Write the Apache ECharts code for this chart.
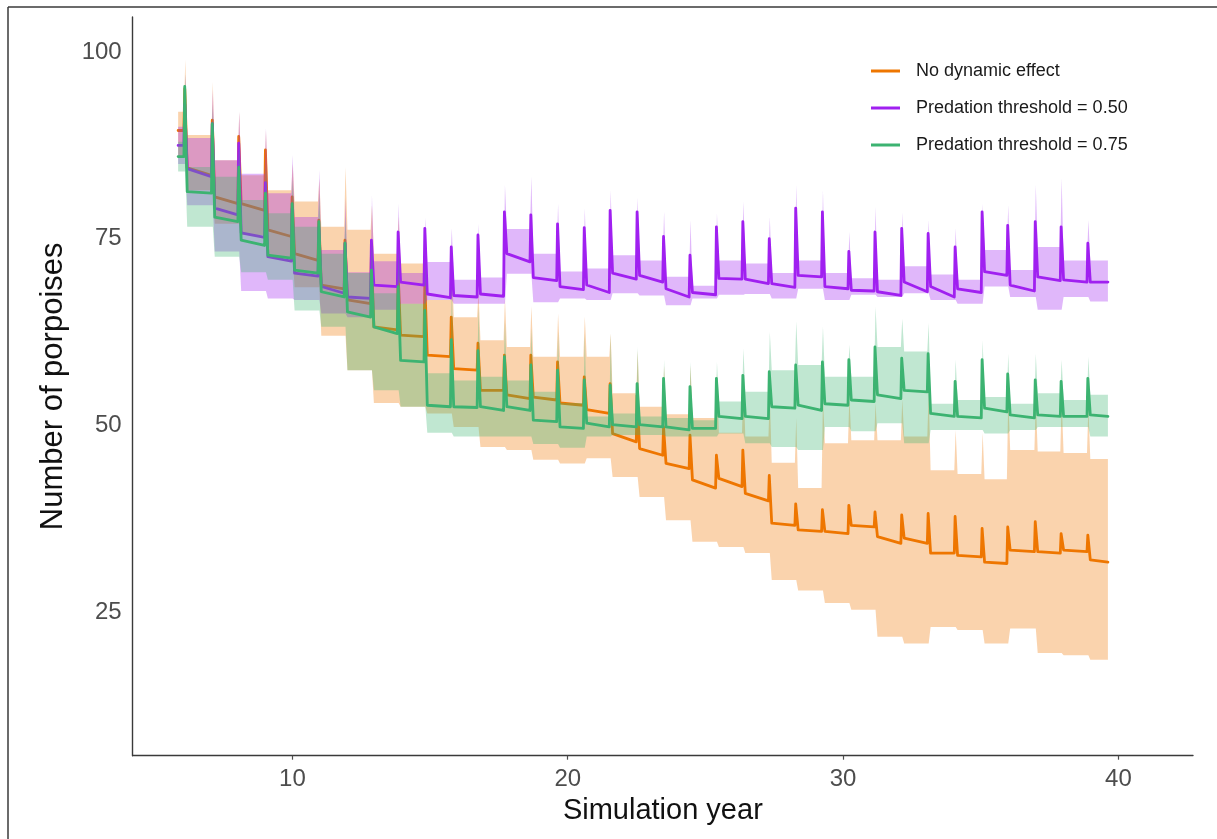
<!DOCTYPE html>
<html>
<head>
<meta charset="utf-8">
<script src="https://cdn.jsdelivr.net/npm/echarts@6.0.0/dist/echarts.min.js"></script>
<style>
  html, body { margin: 0; padding: 0; background: #ffffff; }
  #chart { width: 1217px; height: 839px; }
</style>
</head>
<body>
<div id="chart"></div>
<script>
// ---- Simulation timeline (years) ----
const startYear = 5.85;
const endYear = 39.62;
// yearly breeding pulse
const spikeYear = [6.06, 7.06, 8.02, 8.99, 9.96, 10.93, 11.88, 12.84, 13.81, 14.78,
  15.74, 16.71, 17.67, 18.63, 19.60, 20.57, 21.51, 22.49, 23.45, 24.41,
  25.37, 26.33, 27.29, 28.25, 29.22, 30.18, 31.13, 32.10, 33.06, 34.04,
  35.02, 35.95, 36.95, 37.89, 38.86];

const xTicks = [10, 20, 30, 40];
const yTicks = [25, 50, 75, 100];

const seriesNames = ['No dynamic effect', 'Predation threshold = 0.50', 'Predation threshold = 0.75'];

// ---- No dynamic effect: mean line ----
const noEffectStart = 89.5;
const noEffectPeak = [95.1, 90.9, 88.7, 86.9, 80.6, 77.5, 74.8, 73.0, 70.4, 69.0,
  64.5, 61.0, 59.4, 59.4, 58.5, 56.5, 55.6, 54.0, 49.8, 48.7,
  46.0, 46.7, 43.3, 39.5, 38.7, 39.3, 38.4, 38.0, 38.2, 37.8,
  36.2, 36.4, 37.1, 35.5, 35.3];
const noEffectAfter = [84.5, 80.6, 79.7, 76.2, 73.0, 68.8, 66.8, 63.2, 62.1, 59.4,
  57.6, 54.7, 54.1, 53.8, 53.0, 52.1, 48.9, 46.9, 44.9, 42.7,
  42.9, 40.9, 36.9, 36.0, 35.8, 36.6, 35.1, 34.9, 32.9, 32.6,
  31.7, 33.3, 33.1, 33.3, 32.0];
const noEffectEnd = [83.5, 79.7, 78.8, 75.3, 72.1, 68.3, 66.3, 62.8, 61.9, 59.2,
  57.4, 54.7, 53.6, 53.4, 52.7, 51.6, 47.8, 46.0, 44.2, 41.6,
  41.8, 39.9, 36.6, 35.8, 35.5, 36.4, 34.2, 34.2, 32.9, 32.4,
  31.5, 33.1, 32.9, 33.1, 31.7];
// ---- No dynamic effect: ribbon ----
const noEffectHi = [92, 88.9, 85.5, 83.5, 81.5, 80.0, 76.6, 76.2, 73.0, 71.7,
  66.8, 64.5, 61.4, 60.5, 59.2, 59.2, 59.2, 54.3, 52.5, 51.5,
  51.0, 49.0, 48.5, 45.0, 41.6, 47.6, 48.0, 48.0, 48.5, 44.0,
  43.5, 42.8, 46.7, 46.5, 46.3, 45.5];
const noEffectLo = [86, 81.5, 77, 75.5, 72.5, 68.5, 62.0, 57.4, 53.0, 52.5,
  51.6, 49.8, 47.1, 46.7, 45.4, 44.9, 45.6, 43.1, 40.4, 37.3,
  34.4, 33.7, 32.9, 29.3, 27.9, 26.2, 25.3, 21.7, 20.8, 23.0,
  22.6, 20.8, 22.8, 19.5, 19.2, 18.6];
const noEffectHiPeak = [99, 96, 92, 89.5, 85, 83, 84.6, 79.5, 78, 76,
  72, 68, 67, 66, 65, 64.6, 62.3, 60, 58, 58,
  57, 56, 54, 51, 53.8, 54, 53, 53.5, 54.5, 49.4,
  49, 53.8, 53.4, 53.4, 52.5];

// ---- Predation threshold 0.50: mean line ----
const pred50Start = 87.5;
const pred50Peak = [93.0, 90.4, 87.8, 82.5, 79.0, 76.5, 74.4, 74.8, 75.9, 76.4,
  73.9, 75.5, 78.6, 78.2, 77.0, 76.5, 78.8, 78.6, 75.3, 72.8,
  76.6, 77.3, 75.0, 79.1, 78.6, 73.3, 75.9, 76.4, 75.7, 73.9,
  78.6, 76.8, 77.3, 76.6, 74.4];
const pred50After = [84.4, 79.1, 75.8, 72.6, 70.4, 68.6, 67.2, 68.8, 69.2, 67.6,
  67.4, 67.6, 73.0, 69.8, 68.6, 68.8, 70.4, 70.1, 68.3, 67.8,
  69.7, 69.6, 69.0, 70.1, 68.6, 68.1, 67.9, 69.2, 68.6, 68.3,
  70.6, 68.8, 69.9, 69.5, 69.2];
const pred50End = [83.3, 78.2, 75.2, 72.0, 70.0, 67.7, 67.0, 68.6, 68.8, 67.1,
  67.2, 67.3, 71.9, 69.4, 68.2, 67.8, 69.6, 69.2, 67.2, 67.5,
  69.6, 69.0, 68.5, 69.9, 68.3, 68.0, 67.4, 67.9, 67.2, 67.8,
  70.1, 68.0, 69.4, 69.2, 69.2];
// ---- Predation threshold 0.50: ribbon ----
const pred50Hi = [90, 88.5, 85.5, 83.7, 81.1, 77.9, 73.5, 70.5, 72.0, 70.4,
  71.9, 69.5, 69.8, 76.3, 73.0, 70.6, 71.0, 72.8, 72.1, 69.9,
  68.7, 72.1, 71.7, 70.4, 72.1, 70.4, 69.7, 69.5, 71.3, 70.2,
  69.5, 73.5, 70.8, 73.9, 72.1, 72.1];
const pred50Lo = [85, 79.5, 73.3, 68.0, 67.0, 66.8, 65.0, 64.5, 65.5, 66.3,
  66.8, 66.3, 66.3, 70.3, 66.5, 67.0, 66.8, 67.7, 67.4, 66.1,
  67.0, 67.5, 67.6, 67.0, 68.3, 66.8, 67.5, 67.2, 67.7, 66.8,
  66.3, 68.6, 67.2, 65.5, 67.2, 66.6];
const pred50HiPeak = [97, 95, 92, 89.8, 86.2, 84.2, 80.5, 80.8, 79.7, 77.8,
  76.4, 77, 82.2, 83.3, 79.7, 79.1, 81.5, 80.5, 78.6, 77.5,
  78.4, 80.0, 77.9, 82.2, 81.5, 75.9, 79.3, 78.5, 77.5, 76.4,
  79.7, 79.5, 82.2, 83.1, 77.5];

// ---- Predation threshold 0.75: mean line ----
const pred75Start = 86;
const pred75Peak = [95.4, 90.4, 84.6, 81.1, 79.7, 77.3, 74.4, 70.8, 68.6, 65.4,
  61.5, 60.0, 59.2, 58.1, 57.4, 56.1, 55.4, 55.6, 56.3, 55.2,
  56.3, 56.7, 57.2, 58.1, 58.5, 58.8, 60.5, 59.0, 59.6, 55.9,
  58.8, 56.9, 56.1, 55.9, 56.3];
const pred75After = [81.3, 77.9, 74.8, 72.8, 70.8, 67.9, 65.2, 63.2, 58.7, 52.7,
  52.5, 52.5, 52.5, 50.7, 49.8, 50.3, 50.1, 50.1, 49.8, 49.6,
  51.2, 51.2, 52.5, 52.7, 52.9, 53.4, 54.1, 54.7, 51.6, 51.2,
  52.3, 51.4, 51.4, 51.2, 51.4];
const pred75End = [81.1, 77.3, 74.1, 72.4, 70.4, 67.2, 64.5, 62.3, 58.5, 52.5,
  52.4, 52.0, 52.0, 50.5, 49.6, 49.8, 49.8, 49.8, 49.4, 49.6,
  50.9, 50.9, 52.3, 52.0, 52.7, 53.2, 53.6, 54.5, 51.2, 51.0,
  51.8, 51.0, 51.2, 51.2, 51.2];
// ---- Predation threshold 0.75: ribbon ----
const pred75Hi = [88, 84.6, 83.3, 80.2, 78.4, 76.6, 73.0, 70.4, 67.7, 66.3,
  57.0, 56.0, 56.5, 56.0, 54.5, 53.0, 51.2, 51.6, 51.2, 51.0,
  50.7, 53.2, 54.5, 57.4, 58.1, 56.5, 56.5, 60.5, 59.9, 52.9,
  53.4, 53.8, 52.9, 54.3, 53.4, 54.1];
const pred75Lo = [84, 76.6, 72.6, 70.5, 69.5, 65.4, 63.2, 57.4, 54.7, 52.5,
  49.0, 48.5, 48.5, 48.5, 47.5, 47.0, 48.5, 48.7, 48.7, 48.5,
  48.5, 48.9, 47.6, 47.1, 46.7, 49.8, 49.2, 50.3, 47.6, 49.4,
  49.4, 48.9, 49.4, 49.8, 49.8, 48.5];
const pred75HiPeak = [97, 93, 88, 85, 83, 81, 78, 75, 74, 72,
  69, 66, 64, 63, 62.5, 62.3, 62.3, 60.5, 58.8, 58.5,
  58.5, 60.3, 62.5, 63.9, 63.2, 60.8, 65.9, 64.3, 63.7, 58.8,
  61.4, 59.6, 59.6, 58.8, 59.2];

// ---- styling ----
const COLORS = ['#EE7600', '#A020F0', '#3CB371'];
const BAND_ALPHA = 0.32;
const FONT = '"Liberation Sans", Arial, Helvetica, sans-serif';
// timing of the pulse within a year (years after the pulse starts)
const RISE = 0.03, TOP = 0.08, FALL = 0.12, BAND_TIP = 0.05, BAND_STEP = 0.12;

// mean trajectory: plateau, pulse up to the peak, drop back to the next plateau
function meanPath(start, peak, after, end) {
  const pts = [[startYear, start]];
  for (let k = 0; k < spikeYear.length; k++) {
    const t = spikeYear[k];
    const before = k === 0 ? start : end[k - 1];
    pts.push([t, before], [t + RISE, peak[k]], [t + TOP, peak[k]], [t + FALL, after[k]]);
  }
  pts.push([endYear, end[end.length - 1]]);
  return pts;
}

// ribbon outline: upper edge forward, lower edge backward
function ribbonPath(hi, lo, hiPeak) {
  const upper = [[startYear, hi[0]]];
  const lower = [[startYear, lo[0]]];
  for (let k = 0; k < spikeYear.length; k++) {
    const t = spikeYear[k];
    upper.push([t, hi[k]], [t + BAND_TIP, hiPeak[k]], [t + BAND_STEP, hi[k + 1]]);
    lower.push([t, lo[k]], [t + BAND_TIP, lo[k]], [t + BAND_STEP, lo[k + 1]]);
  }
  upper.push([endYear, hi[hi.length - 1]]);
  lower.push([endYear, lo[lo.length - 1]]);
  return upper.concat(lower.reverse());
}

function rgba(hex, a) {
  const n = parseInt(hex.slice(1), 16);
  return 'rgba(' + ((n >> 16) & 255) + ',' + ((n >> 8) & 255) + ',' + (n & 255) + ',' + a + ')';
}

function ribbonSeries(poly, color, z) {
  return {
    type: 'custom',
    name: 'ribbon',
    coordinateSystem: 'cartesian2d',
    silent: true,
    z: z,
    data: [poly[0]],
    renderItem: function (params, api) {
      return {
        type: 'polygon',
        shape: { points: poly.map(function (p) { return api.coord(p); }) },
        style: { fill: rgba(color, BAND_ALPHA), stroke: null }
      };
    }
  };
}

function meanSeries(name, pts, color, z) {
  return {
    type: 'line',
    name: name,
    data: pts,
    z: z,
    showSymbol: false,
    symbol: 'none',
    silent: true,
    color: color,
    lineStyle: { width: 2.8, color: color, join: 'round', cap: 'round' },
    animation: false
  };
}

const groups = [
  { name: seriesNames[0], mean: meanPath(noEffectStart, noEffectPeak, noEffectAfter, noEffectEnd),
    band: ribbonPath(noEffectHi, noEffectLo, noEffectHiPeak) },
  { name: seriesNames[1], mean: meanPath(pred50Start, pred50Peak, pred50After, pred50End),
    band: ribbonPath(pred50Hi, pred50Lo, pred50HiPeak) },
  { name: seriesNames[2], mean: meanPath(pred75Start, pred75Peak, pred75After, pred75End),
    band: ribbonPath(pred75Hi, pred75Lo, pred75HiPeak) }
];

const series = [];
groups.forEach(function (g, i) {
  series.push(ribbonSeries(g.band, COLORS[i], 2 + i * 2));
  series.push(meanSeries(g.name, g.mean, COLORS[i], 3 + i * 2));
});

const chart = echarts.init(document.getElementById('chart'), null, { renderer: 'canvas' });
chart.setOption({
  animation: false,
  backgroundColor: '#ffffff',
  textStyle: { fontFamily: FONT },
  grid: { left: 132.7, right: 24, top: 17, bottom: 83.3, containLabel: false },
  legend: {
    data: seriesNames,
    orient: 'vertical',
    left: 871,
    top: 61,
    padding: 0,
    itemWidth: 29,
    itemHeight: 3,
    itemGap: 17,
    icon: 'rect',
    selectedMode: false,
    textStyle: { fontFamily: FONT, fontSize: 18, color: '#1a1a1a', lineHeight: 20, padding: [0, 0, 0, 11] }
  },
  xAxis: {
    type: 'value',
    min: 4.2,
    max: 42.71,
    name: 'Simulation year',
    nameLocation: 'middle',
    nameGap: 39,
    nameTextStyle: { fontFamily: FONT, fontSize: 29, color: '#111111' },
    axisLine: { show: true, onZero: false, lineStyle: { color: '#3a3a3a', width: 1.4 } },
    axisTick: { show: true, length: 4, customValues: xTicks, lineStyle: { color: '#4d4d4d', width: 1.2 } },
    axisLabel: { customValues: xTicks, fontSize: 24, color: '#4d4d4d', margin: 12, fontFamily: FONT },
    splitLine: { show: false }
  },
  yAxis: {
    type: 'value',
    min: 5.76,
    max: 104.7,
    name: 'Number of porpoises',
    nameLocation: 'middle',
    nameRotate: 90,
    nameGap: 64,
    nameTextStyle: { fontFamily: FONT, fontSize: 31, color: '#111111' },
    axisLine: { show: true, onZero: false, lineStyle: { color: '#3a3a3a', width: 1.4 } },
    axisTick: { show: false, customValues: yTicks },
    axisLabel: { customValues: yTicks, fontSize: 24, color: '#4d4d4d', margin: 11, fontFamily: FONT },
    splitLine: { show: false }
  },
  graphic: [
    { type: 'line', silent: true, shape: { x1: 8, y1: 7, x2: 1217, y2: 7 },
      style: { stroke: '#3a3a3a', lineWidth: 1.5 } },
    { type: 'line', silent: true, shape: { x1: 8, y1: 7, x2: 8, y2: 839 },
      style: { stroke: '#3a3a3a', lineWidth: 1.5 } }
  ],
  series: series
});
</script>
</body>
</html>
